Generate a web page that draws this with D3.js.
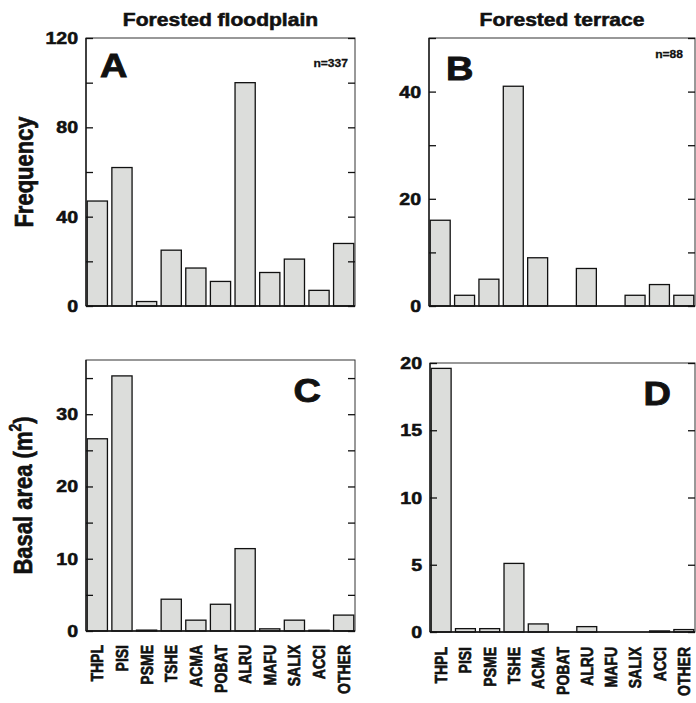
<!DOCTYPE html>
<html>
<head>
<meta charset="utf-8">
<script src="https://cdn.jsdelivr.net/npm/d3@7"></script>
<style>
  body { margin: 0; background: #fff; }
  svg { display: block; font-family: Arial, Helvetica, sans-serif; font-weight: bold; }
  svg text { stroke: #111; stroke-width: 0.55px; }
</style>
</head>
<body>
<svg id="chart" width="696" height="703"></svg>
<script>
/*** Data ***/
var species = ["THPL", "PISI", "PSME", "TSHE", "ACMA", "POBAT", "ALRU", "MAFU", "SALIX", "ACCI", "OTHER"];

var freqFloodplain = [47, 62, 2, 25, 17, 11, 100, 15, 21, 7, 28];
var freqTerrace    = [16, 2, 5, 41, 9, 0, 7, 0, 2, 4, 2];
var basalFloodplain = [26.6, 35.3, 0.12, 4.4, 1.5, 3.7, 11.4, 0.3, 1.5, 0.1, 2.2];
var basalTerrace    = [19.6, 0.25, 0.25, 5.1, 0.6, 0, 0.4, 0, 0, 0.08, 0.18];

var columnTitles = ["Forested floodplain", "Forested terrace"];
var rowLabels = ["Frequency", "Basal area (m"];
var panelLetters = ["A", "B", "C", "D"];
var sampleSizes = ["n=337", "n=88"];

var ticksA = [0, 20, 40, 60, 80, 100, 120], labelsA = [0, 40, 80, 120];
var ticksB = [0, 10, 20, 30, 40, 50],       labelsB = [0, 20, 40];
var ticksC = [0, 5, 10, 15, 20, 25, 30, 35], labelsC = [0, 10, 20, 30];
var ticksD = [0, 5, 10, 15, 20],            labelsD = [0, 5, 10, 15, 20];

/*** Layout ***/
var svg = d3.select("#chart");
var barFill = "#dcdddb",
    ink = "#111",
    stretch = 1.15,   // the source figure is a bit wider than tall
    tickLen = 7;

var panels = [
  {values: freqFloodplain,  max: 120,  ticks: ticksA, labels: labelsA, left: 86,  right: 355, top: 38,  bottom: 306,
   letter: {x: 100, y: 77, anchor: "start"}, n: {text: sampleSizes[0], x: 348, y: 67}},
  {values: freqTerrace,     max: 50,   ticks: ticksB, labels: labelsB, left: 429, right: 695, top: 38,  bottom: 306,
   letter: {x: 446, y: 80, anchor: "start"}, n: {text: sampleSizes[1], x: 683, y: 58}},
  {values: basalFloodplain, max: 37.5, ticks: ticksC, labels: labelsC, left: 86,  right: 355, top: 360, bottom: 631,
   letter: {x: 321, y: 402, anchor: "end"}},
  {values: basalTerrace,    max: 20,   ticks: ticksD, labels: labelsD, left: 430, right: 695, top: 363, bottom: 632,
   letter: {x: 671, y: 405, anchor: "end"}}
];

// horizontal text, widened a little to mimic the source
function wideText(parent, x, y, str, size, anchor, sx) {
  return parent.append("text")
    .attr("transform", "translate(" + x + "," + y + ") scale(" + (sx || stretch) + ",1)")
    .attr("text-anchor", anchor || "middle")
    .attr("font-size", size + "px")
    .attr("fill", ink)
    .text(str);
}

panels.forEach(function(p, i) {
  var g = svg.append("g");

  var x = d3.scaleBand()
    .domain(species)
    .range([p.left, p.right])
    .paddingInner(0.18)
    .paddingOuter(0.05);

  var y = d3.scaleLinear()
    .domain([0, p.max])
    .range([p.bottom, p.top]);

  // bars
  g.append("g").selectAll("rect")
    .data(p.values)
    .enter().append("rect")
      .attr("x", (d, j) => x(species[j]))
      .attr("width", x.bandwidth())
      .attr("y", d => y(d))
      .attr("height", d => y(0) - y(d))
      .attr("fill", barFill)
      .attr("stroke", d => d > 0 ? ink : "none")
      .attr("stroke-width", 1.3);

  // frame
  g.append("rect")
    .attr("x", p.left).attr("y", p.top)
    .attr("width", p.right - p.left).attr("height", p.bottom - p.top)
    .attr("fill", "none")
    .attr("stroke", "#333")
    .attr("stroke-width", 1);
  g.append("line")
    .attr("x1", p.left).attr("x2", p.right)
    .attr("y1", p.bottom).attr("y2", p.bottom)
    .attr("stroke", ink).attr("stroke-width", 1.6);
  g.append("line")
    .attr("x1", p.left).attr("x2", p.left)
    .attr("y1", p.top).attr("y2", p.bottom)
    .attr("stroke", ink).attr("stroke-width", 1.3);

  // inward ticks, left and right
  var leftAxis = d3.axisRight(y).tickValues(p.ticks).tickSize(tickLen).tickFormat("");
  var rightAxis = d3.axisLeft(y).tickValues(p.ticks).tickSize(tickLen).tickFormat("");
  [g.append("g").attr("transform", "translate(" + p.left + ",0)").call(leftAxis),
   g.append("g").attr("transform", "translate(" + p.right + ",0)").call(rightAxis)]
    .forEach(function(a) {
      a.select(".domain").remove();
      a.selectAll("line").attr("stroke", ink).attr("stroke-width", 1.3);
    });

  // tick labels
  p.labels.forEach(function(v) {
    wideText(g, p.left - 8, y(v) + 6, v, 17, "end");
  });

  // panel letter
  wideText(g, p.letter.x, p.letter.y, panelLetters[i], 33, p.letter.anchor)
    .style("stroke-width", "0.9px");

  // sample size
  if (p.n) wideText(g, p.n.x, p.n.y, p.n.text, 10.5, "end").style("stroke-width", "0.3px");

  // species labels under the bottom row
  if (i >= 2) {
    g.append("g").selectAll("text")
      .data(species)
      .enter().append("text")
        .attr("transform", d => "translate(" + (x(d) + x.bandwidth() / 2 + 6) + "," + (i === 2 ? 645 : 647) + ") rotate(-90) scale(1,1.2)")
        .attr("text-anchor", "end")
        .attr("font-size", "14px")
        .attr("fill", ink)
        .text(d => d);
  }

  // column titles on top row
  if (i < 2) wideText(g, (p.left + p.right) / 2, 26, columnTitles[i], 18, "middle", 1.17);
});

// row labels
svg.append("text")
  .attr("transform", "translate(33," + ((panels[0].top + panels[0].bottom) / 2) + ") rotate(-90) scale(1,1.2)")
  .attr("text-anchor", "middle")
  .attr("font-size", "22px")
  .attr("fill", ink)
  .text(rowLabels[0]);

var basal = svg.append("text")
  .attr("transform", "translate(32," + ((panels[2].top + panels[2].bottom) / 2) + ") rotate(-90) scale(1,1.2)")
  .attr("text-anchor", "middle")
  .attr("font-size", "22px")
  .attr("fill", ink);
basal.append("tspan").text(rowLabels[1]);
basal.append("tspan").attr("font-size", "14px").attr("dy", "-9").text("2");
basal.append("tspan").attr("dy", "9").text(")");
</script>
</body>
</html>
